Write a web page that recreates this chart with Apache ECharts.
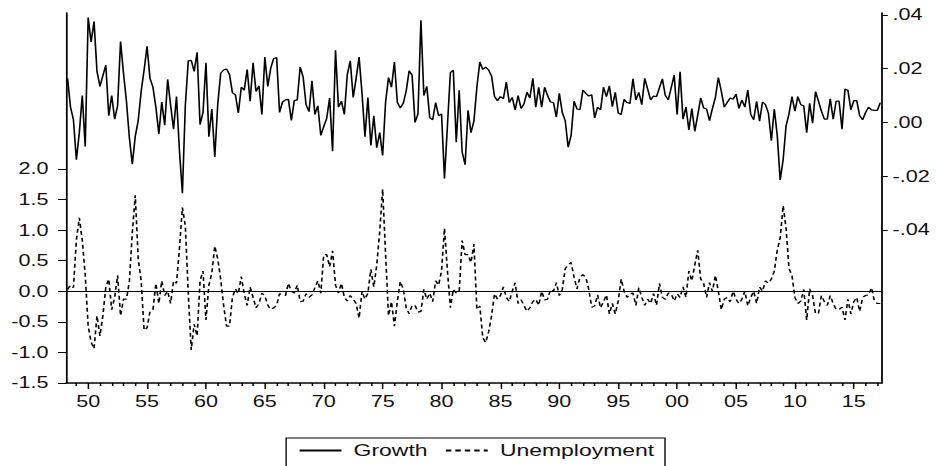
<!DOCTYPE html>
<html><head><meta charset="utf-8">
<script src="https://cdn.jsdelivr.net/npm/echarts@6/dist/echarts.min.js"></script>
<style>
html,body{margin:0;padding:0;background:#fff;overflow:hidden;}
#chart{width:695px;height:466px;transform:scaleX(1.34964);transform-origin:0 0;}
</style></head><body><div id="chart"></div>
<script>
// Quarterly observations, 1948Q2 .. 2017Q2
const startYear = 1948, startQuarter = 2;

const growth = [
  0.0164, 0.0057, 0.0010,                 // 1948 Q2-Q4
  -0.0139, -0.0038, 0.0100, -0.0089,      // 1949
  0.0390, 0.0299, 0.0375, 0.0190,         // 1950
  0.0134, 0.0174, 0.0213, 0.0025,         // 1951
  0.0100, 0.0012, 0.0062, 0.0301,         // 1952
  0.0183, 0.0079, -0.0058, -0.0155,       // 1953
  -0.0051, 0.0007, 0.0115, 0.0195,        // 1954
  0.0283, 0.0164, 0.0131, 0.0057,         // 1955
  -0.0043, 0.0076, -0.0010, 0.0160,       // 1956
  0.0064, -0.0025, 0.0096, -0.0105,       // 1957
  -0.0263, 0.0064, 0.0229, 0.0231,        // 1958
  0.0190, 0.0261, -0.0008, 0.0037,        // 1959
  0.0222, -0.0053, 0.0050, -0.0128,       // 1960
  0.0066, 0.0183, 0.0195, 0.0199,         // 1961
  0.0178, 0.0110, 0.0103, 0.0035,         // 1962
  0.0131, 0.0120, 0.0197, 0.0079,         // 1963
  0.0222, 0.0115, 0.0136, 0.0030,         // 1964
  0.0243, 0.0134, 0.0202, 0.0238,         // 1965
  0.0241, 0.0037, 0.0076, 0.0084,         // 1966
  0.0086, 0.0007, 0.0081, 0.0084,         // 1967
  0.0206, 0.0169, 0.0066, 0.0040,         // 1968
  0.0155, 0.0030, 0.0062, -0.0048,        // 1969
  -0.0015, 0.0015, 0.0091, -0.0107,       // 1970
  0.0268, 0.0057, 0.0079, 0.0030,         // 1971
  0.0178, 0.0229, 0.0093, 0.0164,         // 1972
  0.0243, 0.0108, -0.0053, 0.0093,        // 1973
  -0.0086, 0.0025, -0.0094, -0.0038,      // 1974
  -0.0123, 0.0076, 0.0167, 0.0131,        // 1975
  0.0225, 0.0074, 0.0054, 0.0071,         // 1976
  0.0117, 0.0192, 0.0176, 0.0000,         // 1977
  0.0032, 0.0380, 0.0100, 0.0134,         // 1978
  0.0017, 0.0010, 0.0074, 0.0025,         // 1979
  0.0032, -0.0208, -0.0013, 0.0185,       // 1980
  0.0195, -0.0074, 0.0120, -0.0110,       // 1981
  -0.0157, 0.0045, -0.0038, 0.0005,       // 1982
  0.0131, 0.0225, 0.0197, 0.0206,         // 1983
  0.0195, 0.0172, 0.0096, 0.0081,         // 1984
  0.0096, 0.0088, 0.0150, 0.0074,         // 1985
  0.0093, 0.0047, 0.0100, 0.0052,         // 1986
  0.0069, 0.0112, 0.0091, 0.0164,         // 1987
  0.0057, 0.0131, 0.0057, 0.0131,         // 1988
  0.0100, 0.0076, 0.0074, 0.0020,         // 1989
  0.0108, 0.0037, 0.0007, -0.0092,        // 1990
  -0.0048, 0.0079, 0.0050, 0.0047,        // 1991
  0.0120, 0.0108, 0.0098, 0.0103,         // 1992
  0.0017, 0.0057, 0.0047, 0.0131,         // 1993
  0.0096, 0.0136, 0.0059, 0.0112,         // 1994
  0.0035, 0.0030, 0.0086, 0.0074,         // 1995
  0.0071, 0.0162, 0.0084, 0.0112,         // 1996
  0.0066, 0.0164, 0.0124, 0.0084,         // 1997
  0.0098, 0.0096, 0.0129, 0.0162,         // 1998
  0.0100, 0.0084, 0.0129, 0.0176,         // 1999
  0.0030, 0.0188, 0.0012, 0.0057,         // 2000
  -0.0028, 0.0052, -0.0033, 0.0027,       // 2001
  0.0091, 0.0054, 0.0050, 0.0007,         // 2002
  0.0052, 0.0093, 0.0167, 0.0117,         // 2003
  0.0057, 0.0074, 0.0091, 0.0086,         // 2004
  0.0105, 0.0052, 0.0084, 0.0057,         // 2005
  0.0120, 0.0030, 0.0010, 0.0079,         // 2006
  0.0005, 0.0076, 0.0066, 0.0035,         // 2007
  -0.0068, 0.0050, -0.0048, -0.0214,      // 2008
  -0.0139, -0.0013, 0.0032, 0.0096,       // 2009
  0.0042, 0.0096, 0.0066, 0.0062,         // 2010
  -0.0038, 0.0071, -0.0003, 0.0115,       // 2011
  0.0079, 0.0042, 0.0012, 0.0012,         // 2012
  0.0088, 0.0012, 0.0079, 0.0079,         // 2013
  -0.0025, 0.0124, 0.0120, 0.0047,        // 2014
  0.0081, 0.0081, 0.0025, 0.0010,         // 2015
  0.0037, 0.0057, 0.0047, 0.0045,         // 2016
  0.0045, 0.0074                          // 2017 Q1-Q2
];

const unemployment = [
  0.03, 0.10, 0.06,                       // 1948 Q2-Q4
  0.84, 1.20, 0.83, 0.27,                 // 1949
  -0.57, -0.83, -0.94, -0.40,             // 1950
  -0.73, -0.40, 0.07, 0.20,               // 1951
  -0.30, -0.10, 0.26, -0.40,              // 1952
  -0.13, -0.13, 0.16, 0.97,               // 1953
  1.57, 0.53, 0.17, -0.64,                // 1954
  -0.60, -0.33, -0.30, 0.13,              // 1955
  -0.20, 0.17, -0.07, 0.00,               // 1956
  -0.20, 0.17, 0.13, 0.70,                // 1957
  1.37, 1.07, -0.04, -0.96,               // 1958
  -0.54, -0.73, 0.17, 0.33,               // 1959
  -0.47, 0.10, 0.30, 0.74,                // 1960
  0.53, 0.20, -0.23, -0.57,               // 1961
  -0.57, -0.10, 0.04, -0.04,              // 1962
  0.24, -0.04, -0.23, 0.07,               // 1963
  -0.10, -0.27, -0.20, -0.03,             // 1964
  -0.07, -0.23, -0.30, -0.27,             // 1965
  -0.23, -0.04, -0.06, -0.07,             // 1966
  0.13, 0.00, -0.03, 0.10,                // 1967
  -0.17, -0.16, -0.04, -0.10,             // 1968
  -0.06, 0.06, 0.17, -0.03,               // 1969
  0.60, 0.60, 0.40, 0.66,                 // 1970
  0.10, -0.03, 0.13, -0.10,               // 1971
  -0.16, -0.07, -0.13, -0.20,             // 1972
  -0.44, 0.00, -0.13, -0.03,              // 1973
  0.36, 0.07, 0.43, 0.97,                 // 1974
  1.67, 0.60, -0.40, -0.17,               // 1975
  -0.57, -0.16, 0.16, 0.04,               // 1976
  -0.27, -0.37, -0.23, -0.23,             // 1977
  -0.34, -0.33, 0.03, -0.13,              // 1978
  -0.03, -0.17, 0.17, 0.10,               // 1979
  0.33, 1.03, 0.34, -0.27,                // 1980
  0.03, -0.03, 0.00, 0.83,                // 1981
  0.60, 0.60, 0.47, 0.77,                 // 1982
  -0.30, -0.24, -0.76, -0.84,             // 1983
  -0.66, -0.40, -0.04, -0.13,             // 1984
  -0.07, 0.07, -0.10, -0.17,              // 1985
  0.00, 0.14, -0.20, -0.14,               // 1986
  -0.23, -0.33, -0.27, -0.17,             // 1987
  -0.13, -0.23, 0.00, -0.14,              // 1988
  -0.13, 0.03, 0.00, 0.14,                // 1989
  -0.07, 0.03, 0.37, 0.43,                // 1990
  0.47, 0.23, 0.04, 0.23,                 // 1991
  0.27, 0.23, 0.03, -0.26,                // 1992
  -0.24, -0.06, -0.27, -0.17,             // 1993
  -0.06, -0.37, -0.20, -0.37,             // 1994
  -0.16, 0.20, 0.00, -0.10,               // 1995
  -0.04, -0.03, -0.23, 0.06,              // 1996
  -0.10, -0.23, -0.13, -0.20,             // 1997
  -0.04, -0.23, 0.13, -0.10,              // 1998
  -0.13, -0.03, -0.04, -0.16,             // 1999
  -0.04, -0.10, 0.07, -0.10,              // 2000
  0.33, 0.17, 0.43, 0.67,                 // 2001
  0.20, 0.13, -0.10, 0.14,                // 2002
  0.00, 0.26, 0.00, -0.30,                // 2003
  -0.13, -0.10, -0.17, 0.00,              // 2004
  -0.13, -0.20, -0.13, 0.00,              // 2005
  -0.24, -0.10, 0.00, -0.20,              // 2006
  0.07, 0.00, 0.17, 0.13,                 // 2007
  0.20, 0.33, 0.67, 0.87,                 // 2008
  1.40, 1.03, 0.37, 0.26,                 // 2009
  -0.10, -0.20, -0.16, 0.03,              // 2010
  -0.47, 0.04, -0.07, -0.37,              // 2011
  -0.36, -0.07, -0.17, -0.23,             // 2012
  -0.07, -0.20, -0.30, -0.30,             // 2013
  -0.26, -0.47, -0.13, -0.37,             // 2014
  -0.17, -0.10, -0.33, -0.10,             // 2015
  -0.07, -0.06, 0.06, -0.16,              // 2016
  -0.20, -0.20                            // 2017 Q1-Q2
];

const xMajorTicks = [1950,1955,1960,1965,1970,1975,1980,1985,1990,1995,2000,2005,2010,2015];
const xMajorLabels = ['50','55','60','65','70','75','80','85','90','95','00','05','10','15'];
const xMinorTicks = [1949,1951,1952,1953,1954,1956,1957,1958,1959,1961,1962,1963,1964,1966,1967,1968,1969,
  1971,1972,1973,1974,1976,1977,1978,1979,1981,1982,1983,1984,1986,1987,1988,1989,1991,1992,1993,1994,
  1996,1997,1998,1999,2001,2002,2003,2004,2006,2007,2008,2009,2011,2012,2013,2014,2016,2017];
const leftTicks = [-1.5,-1.0,-0.5,0,0.5,1.0,1.5,2.0];
const leftLabels = ['-1.5','-1.0','-0.5','0.0','0.5','1.0','1.5','2.0'];
const rightTicks = [-0.04,-0.02,0,0.02,0.04];
const rightLabels = ['-.04','-.02','.00','.02','.04'];

const times = growth.map((_, i) => startYear + (startQuarter - 1 + i) / 4);
const growthData = times.map((t, i) => [t, growth[i]]);
const unempData = times.map((t, i) => [t, unemployment[i]]);

function labelFrom(ticks, labels) {
  return function (v) {
    const i = ticks.findIndex(t => Math.abs(t - v) < 1e-9);
    return i >= 0 ? labels[i] : '';
  };
}

const FONT = "'Liberation Sans', Arial, sans-serif";
const XMIN = 1948.13, XMAX = 2017.37;

const chart = echarts.init(document.getElementById('chart'), null, { renderer: 'svg' });
chart.setOption({
  animation: false,
  backgroundColor: '#fff',
  grid: { left: 49, right: 41.7, top: 13, bottom: 83, containLabel: false },
  legend: {
    data: ['Growth', 'Unemployment'],
    left: 212, top: 438,
    itemWidth: 31, itemHeight: 14, itemGap: 12.6,
    padding: [4, 8, 12, 9],
    borderColor: '#000', borderWidth: 1,
    selectedMode: false,
    itemStyle: { color: 'rgba(0,0,0,0)', borderWidth: 0, opacity: 0 },
    textStyle: { fontSize: 17, color: '#111', fontFamily: FONT, padding: [0, 0, 0, 4] }
  },
  xAxis: [{
    type: 'value', min: XMIN, max: XMAX, position: 'bottom',
    axisLine: { show: true, onZero: false, lineStyle: { color: '#000', width: 1.5 } },
    axisTick: { show: true, length: 6, customValues: xMajorTicks, lineStyle: { color: '#000', width: 1.1 } },
    axisLabel: { show: true, customValues: xMajorTicks, formatter: labelFrom(xMajorTicks, xMajorLabels),
      margin: 11, fontSize: 16, color: '#111', fontFamily: FONT },
    splitLine: { show: false }
  }, {
    type: 'value', min: XMIN, max: XMAX, position: 'bottom',
    axisLine: { show: false, onZero: false },
    axisTick: { show: true, length: 3, customValues: xMinorTicks, lineStyle: { color: '#000', width: 1.1 } },
    axisLabel: { show: false },
    splitLine: { show: false }
  }],
  yAxis: [{
    type: 'value', min: -1.5, max: 4.55, position: 'left',
    axisLine: { show: true, onZero: false, lineStyle: { color: '#000', width: 1.3 } },
    axisTick: { show: true, length: 6, customValues: leftTicks, lineStyle: { color: '#000', width: 1 } },
    axisLabel: { show: true, customValues: leftTicks, formatter: labelFrom(leftTicks, leftLabels),
      margin: 13, fontSize: 16, color: '#111', fontFamily: FONT },
    splitLine: { show: false }
  }, {
    type: 'value', min: -0.0969, max: 0.0407, position: 'right',
    axisLine: { show: true, onZero: false, lineStyle: { color: '#000', width: 1.3 } },
    axisTick: { show: true, length: 4.5, customValues: rightTicks, lineStyle: { color: '#000', width: 1 } },
    axisLabel: { show: true, customValues: rightTicks, formatter: labelFrom(rightTicks, rightLabels),
      margin: 8, fontSize: 16, color: '#111', fontFamily: FONT },
    splitLine: { show: false }
  }],
  series: [{
    name: 'Growth', type: 'line', xAxisIndex: 0, yAxisIndex: 1,
    data: growthData, symbol: 'none', silent: true,
    lineStyle: { color: '#000', width: 1.2 }, itemStyle: { color: '#000' }
  }, {
    name: 'Unemployment', type: 'line', xAxisIndex: 0, yAxisIndex: 0,
    data: unempData, symbol: 'none', silent: true,
    lineStyle: { color: '#000', width: 1.2, type: [4, 3] }, itemStyle: { color: '#000' },
    markLine: {
      silent: true, symbol: 'none', label: { show: false },
      lineStyle: { color: '#000', width: 1, type: 'solid' },
      data: [{ yAxis: 0 }]
    }
  }]
});
</script>
</body></html>
